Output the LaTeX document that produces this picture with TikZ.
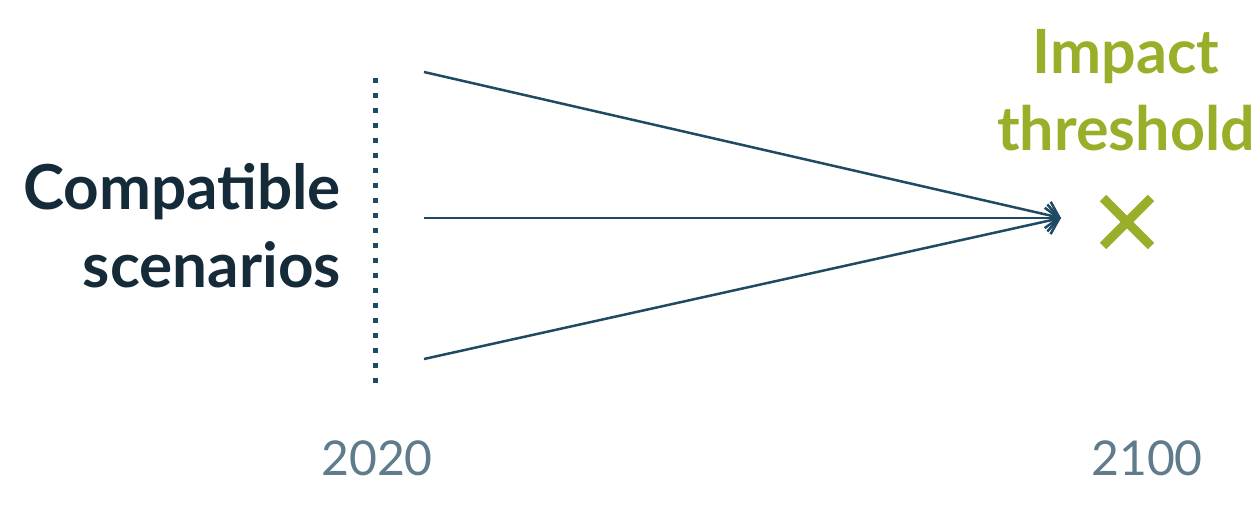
\documentclass[tikz,border=0pt]{standalone}
\usepackage{fontspec}
\setmainfont{Lato}
\usetikzlibrary{arrows.meta,calc}
\definecolor{navy}{HTML}{152B3A}
\definecolor{lineblue}{HTML}{1F4A63}
\definecolor{green}{HTML}{9AAE2A}
\definecolor{yeargray}{HTML}{5F7B8C}
\tikzset{
  scen/.style={draw=lineblue, line width=2.5pt, -{Straight Barb[length=12pt,width=27pt,line width=2.5pt]}},
  biglabel/.style={font=\fontsize{62}{78}\selectfont\bfseries, align=right, text=navy, inner sep=0pt},
  greenlabel/.style={font=\fontsize{61}{77}\selectfont\bfseries, align=center, text=green, inner sep=0pt},
  yearlabel/.style={font=\fontsize{48}{56}\selectfont, text=yeargray, inner sep=0pt},
}
\begin{document}
\begin{tikzpicture}[x=1pt,y=-1pt]
\useasboundingbox (0,0) rectangle (1260,510);
\coordinate (dtop) at (375,78);
\coordinate (dbot) at (375,383);
\draw[lineblue, line width=5pt, dash pattern=on 5pt off 10pt] (dtop) -- (dbot);
\coordinate (s1) at (424,72);
\coordinate (s2) at (424,218);
\coordinate (s3) at (424,359);
\coordinate (t) at (1061,218);
\draw[scen] (s1) -- (t);
\draw[scen] (s2) -- (t);
\draw[scen] (s3) -- (t);
\coordinate (xc) at (1127,222);
\draw[green, line width=9pt] ($(xc)+(-24,-24)$) -- ($(xc)+(24,24)$);
\draw[green, line width=9pt] ($(xc)+(-24,24)$) -- ($(xc)+(24,-24)$);
\node[biglabel, anchor=east] (comp) at (341,226) {Compatible\\scenarios};
\node[greenlabel] (imp) at (1126,90) {Impact\\threshold};
\node[yearlabel] (y1) at (377,458) {2020};
\node[yearlabel] (y2) at (1147,458) {2100};
\end{tikzpicture}
\end{document}
